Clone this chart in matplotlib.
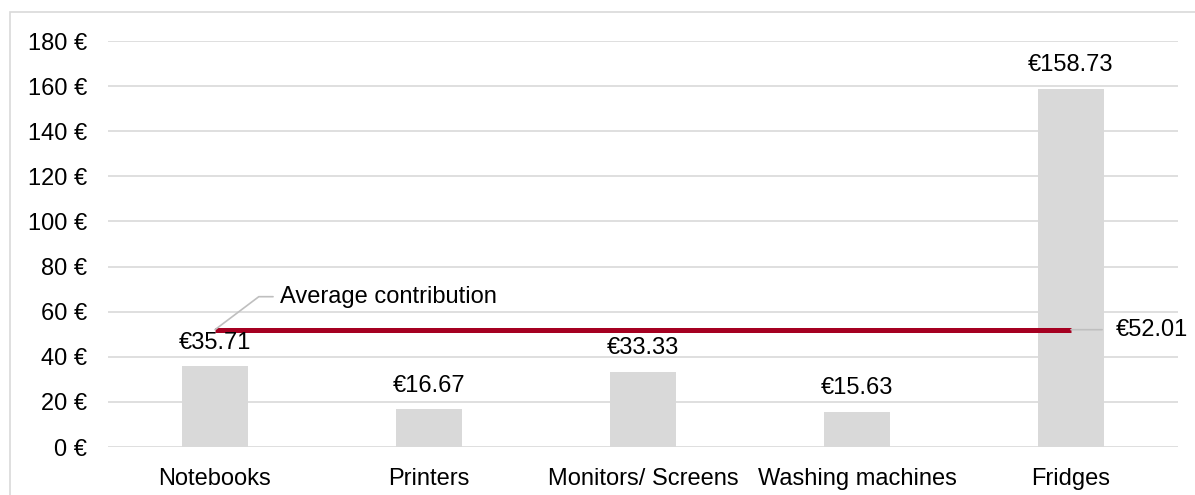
import matplotlib.pyplot as plt
from matplotlib.patches import Rectangle

plt.rcParams['font.family'] = ['Liberation Sans', 'DejaVu Sans']

categories = ['Notebooks', 'Printers', 'Monitors/ Screens', 'Washing machines', 'Fridges']
contribution = [35.71, 16.67, 33.33, 15.63, 158.73]
average = 52.01
y_ticks = [0, 20, 40, 60, 80, 100, 120, 140, 160, 180]

grey = '#D9D9D9'
leader = '#BFBFBF'
red = '#A50021'

fig = plt.figure(figsize=(11.95, 4.95), dpi=100)
fig.patches.append(Rectangle((10 / 1195, -0.1), 1.2, 1 - 12 / 495 + 0.1, transform=fig.transFigure,
                             fill=False, edgecolor=grey, lw=1.2))
ax = fig.add_axes([108 / 1195, 1 - 447 / 495, 1070 / 1195, 406 / 495])

x = range(len(categories))
ax.bar(x, contribution, width=0.31, color=grey, zorder=2)

for xi, v in zip(x, contribution):
    ax.annotate(f'€{v:.2f}', xy=(xi, v), xytext=(0, 9), textcoords='offset points',
                ha='center', va='bottom', fontsize=17, color='black', zorder=4)

# average line
ax.plot([0, len(categories) - 1], [average, average], color=red, lw=3.6,
        solid_capstyle='butt', zorder=3)
ax.annotate('Average contribution', xy=(0, average), xytext=(65, 33), textcoords='offset pixels',
            ha='left', va='center', fontsize=17, color='black',
            arrowprops=dict(arrowstyle='-', color=leader, lw=1.2, shrinkA=3, shrinkB=0,
                            relpos=(0, 0.5), connectionstyle='angle,angleA=0,angleB=37,rad=0'))
ax.annotate(f'€{average:.2f}', xy=(len(categories) - 1, average), xytext=(45, 0),
            textcoords='offset pixels', ha='left', va='center', fontsize=17, color='black',
            arrowprops=dict(arrowstyle='-', color=leader, lw=1.2, shrinkA=8, shrinkB=0,
                            relpos=(0, 0.5)))

ax.set_xlim(-0.5, len(categories) - 0.5)
ax.set_ylim(0, 180)
ax.set_yticks(y_ticks)
ax.set_yticklabels([f'{t} €' for t in y_ticks])
ax.set_xticks(list(x))
ax.set_xticklabels(categories)
ax.tick_params(axis='y', length=0, pad=15, labelsize=17)
ax.tick_params(axis='x', length=0, pad=15, labelsize=17)
ax.grid(True, axis='y', color=grey, lw=1.2, zorder=0)
ax.set_axisbelow(True)
for s in ax.spines.values():
    s.set_visible(False)

fig.savefig('out.png', dpi=100)
